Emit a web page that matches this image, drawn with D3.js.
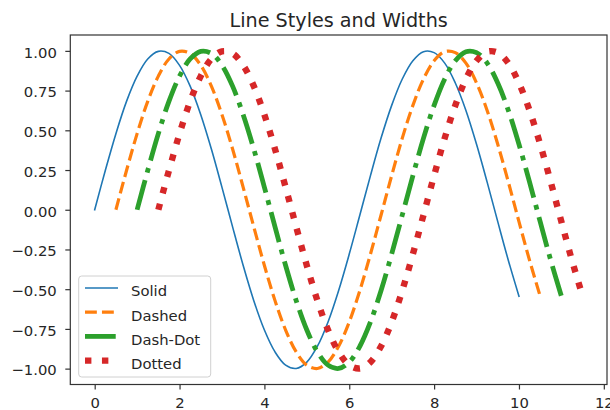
<!DOCTYPE html>
<html>
<head>
<meta charset="utf-8">
<script src="https://cdn.jsdelivr.net/npm/d3@7"></script>
<style>
  html, body { margin: 0; padding: 0; background: #fff; }
  svg { display: block; font-family: "DejaVu Sans", sans-serif; }
</style>
</head>
<body>
<svg id="chart" width="610" height="410"></svg>
<script>
// Sampled wave: x positions and the matching y values
const xValues = [0, 0.25, 0.5, 0.75, 1, 1.25, 1.5, 1.75, 2, 2.25, 2.5, 2.75, 3, 3.25, 3.5, 3.75,
  4, 4.25, 4.5, 4.75, 5, 5.25, 5.5, 5.75, 6, 6.25, 6.5, 6.75, 7, 7.25, 7.5, 7.75,
  8, 8.25, 8.5, 8.75, 9, 9.25, 9.5, 9.75, 10];
const yValues = [0, 0.247, 0.479, 0.682, 0.841, 0.949, 0.997, 0.984, 0.909, 0.778, 0.598, 0.382,
  0.141, -0.108, -0.351, -0.572, -0.757, -0.895, -0.978, -0.999, -0.959, -0.859, -0.706, -0.508,
  -0.279, -0.033, 0.215, 0.451, 0.657, 0.823, 0.938, 0.995, 0.989, 0.923, 0.798, 0.625, 0.412,
  0.174, -0.075, -0.319, -0.544];

// One entry per series: label, horizontal shift, colour, width (pt), dash pattern (pt, per unit width)
const seriesLabels = ["Solid", "Dashed", "Dash-Dot", "Dotted"];
const seriesShifts = [0, 0.5, 1.0, 1.5];
const seriesColors = ["#1f77b4", "#ff7f0e", "#2ca02c", "#d62728"];
const seriesWidths = [1, 2, 3, 4];
const seriesDashes = [null, [3.7, 1.6], [6.4, 1.6, 1, 1.6], [1, 1.65]];

const xTicks = [0, 2, 4, 6, 8, 10, 12];
const yTicks = [-1.0, -0.75, -0.5, -0.25, 0, 0.25, 0.5, 0.75, 1.0];
const titleText = "Line Styles and Widths";

const pt = 1.6;      // pixels per point
const fontPx = 14.8;

const svg = d3.select("#chart");
const plot = { left: 70.3, right: 607, top: 35, bottom: 384.5 };

const x = d3.scaleLinear().domain([-0.575, 12.075]).range([plot.left, plot.right]);
const y = d3.scaleLinear().domain([-1.0999, 1.0999]).range([plot.bottom, plot.top]);

const series = seriesLabels.map((label, i) => ({
  label,
  color: seriesColors[i],
  width: seriesWidths[i] * pt,
  dash: seriesDashes[i] ? seriesDashes[i].map(d => d * seriesWidths[i] * pt) : null,
  points: xValues.map((xv, j) => [xv + seriesShifts[i], yValues[j]])
}));

// Curves
const line = d3.line()
  .x(d => x(d[0]))
  .y(d => y(d[1]))
  .curve(d3.curveCatmullRom.alpha(0.5));

svg.append("clipPath").attr("id", "plotClip")
  .append("rect")
  .attr("x", plot.left).attr("y", plot.top)
  .attr("width", plot.right - plot.left).attr("height", plot.bottom - plot.top);

const curves = svg.append("g").attr("clip-path", "url(#plotClip)");
series.forEach(s => {
  curves.append("path")
    .attr("d", line(s.points))
    .attr("fill", "none")
    .attr("stroke", s.color)
    .attr("stroke-width", s.width)
    .attr("stroke-dasharray", s.dash ? s.dash.join(",") : null)
    .attr("stroke-linecap", s.dash ? "butt" : "square")
    .attr("stroke-linejoin", "round");
});

// Axes
const tickLen = 5;
const xAxis = d3.axisBottom(x).tickValues(xTicks).tickFormat(d3.format("d"))
  .tickSize(tickLen).tickPadding(4).tickSizeOuter(0);
const yAxis = d3.axisLeft(y).tickValues(yTicks).tickFormat(d => d3.format(".2f")(d).replace("-", "\u2212"))
  .tickSize(tickLen).tickPadding(4).tickSizeOuter(0);

const gx = svg.append("g").attr("transform", `translate(0,${plot.bottom})`).call(xAxis);
const gy = svg.append("g").attr("transform", `translate(${plot.left},0)`).call(yAxis);
[gx, gy].forEach(g => {
  g.select(".domain").remove();
  g.selectAll(".tick line").attr("stroke", "#333").attr("stroke-width", 1.2);
  g.selectAll(".tick text")
    .attr("fill", "#262626")
    .style("font-size", fontPx + "px")
    .style("font-family", "DejaVu Sans, sans-serif");
});
gx.selectAll(".tick text").attr("dy", null).attr("y", 23.3);
gy.selectAll(".tick text").attr("dy", null).attr("y", 6.3).attr("x", -13.5);

// Frame
svg.append("rect")
  .attr("x", plot.left).attr("y", plot.top)
  .attr("width", plot.right - plot.left).attr("height", plot.bottom - plot.top)
  .attr("fill", "none").attr("stroke", "#333").attr("stroke-width", 1.2);

// Title
svg.append("text")
  .attr("x", (plot.left + plot.right) / 2)
  .attr("y", 26.5)
  .attr("text-anchor", "middle")
  .attr("fill", "#262626")
  .style("font-size", "19.2px")
  .text(titleText);

// Legend
const legend = svg.append("g");
const lg = { x: 78.7, y: 276, w: 132, h: 101, rowGap: 24.2, firstRow: 288 };
legend.append("rect")
  .attr("x", lg.x).attr("y", lg.y).attr("width", lg.w).attr("height", lg.h)
  .attr("rx", 3).attr("ry", 3)
  .attr("fill", "rgba(255,255,255,0.8)")
  .attr("stroke", "#d0d0d0").attr("stroke-width", 1);

series.forEach((s, i) => {
  const cy = lg.firstRow + i * lg.rowGap;
  legend.append("line")
    .attr("x1", 85).attr("x2", 118)
    .attr("y1", cy).attr("y2", cy)
    .attr("stroke", s.color)
    .attr("stroke-width", s.width)
    .attr("stroke-dasharray", s.dash ? s.dash.join(",") : null)
    .attr("stroke-linecap", "butt");
  legend.append("text")
    .attr("x", 131)
    .attr("y", cy + 8.3)
    .attr("fill", "#262626")
    .style("font-size", fontPx + "px")
    .text(s.label);
});
</script>
</body>
</html>
